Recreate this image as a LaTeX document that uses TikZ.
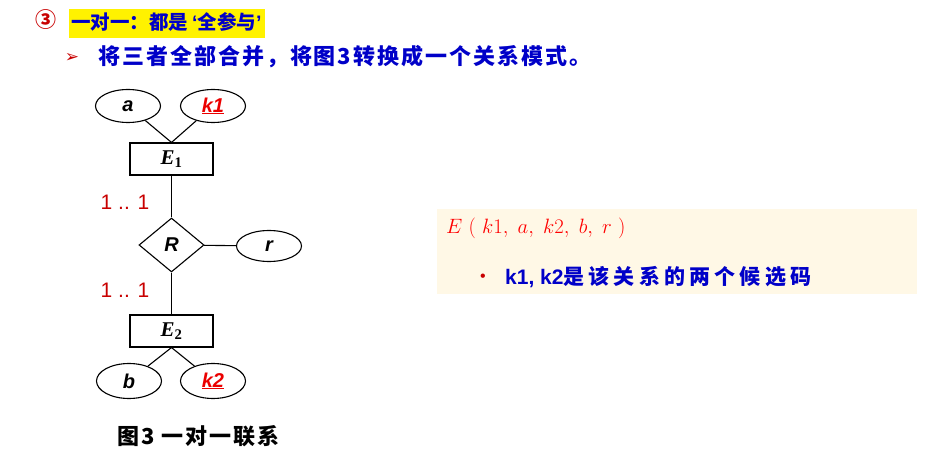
\documentclass[tikz,border=0pt]{standalone}
\usepackage{fontspec}
\usepackage{tikz}
\usetikzlibrary{shapes.geometric,positioning}
\setmainfont{Liberation Sans}
\newfontfamily\seriffont{Liberation Serif}
\newfontfamily\cjkfont{Noto Sans CJK SC}
\newfontfamily\cjkwide[LetterSpace=9]{Noto Sans CJK SC}
\newfontfamily\cjkloose[LetterSpace=20]{Noto Sans CJK SC}
\newfontfamily\symfont{DejaVu Sans}
\definecolor{titleblue}{RGB}{0,0,200}
\definecolor{keyred}{RGB}{235,0,0}
\definecolor{darkred}{RGB}{200,0,0}
\definecolor{boxcream}{RGB}{255,248,230}

\tikzset{
    attr/.style={ellipse, draw, line width=1.1pt, minimum width=65pt, minimum height=33pt,
                 inner sep=0pt, font=\fontsize{20}{22}\selectfont\bfseries\itshape},
    entity/.style={rectangle, draw, line width=1.1pt, minimum width=83pt, minimum height=32pt,
                   inner sep=0pt, font=\fontsize{21}{23}\selectfont\seriffont\bfseries\itshape},
    relship/.style={diamond, draw, line width=1.1pt, minimum width=65pt, minimum height=54pt,
                    inner sep=0pt, font=\fontsize{20}{22}\selectfont\bfseries\itshape},
    card/.style={text=darkred, font=\fontsize{21}{23}\selectfont},
    conn/.style={line width=1.1pt}
}

\begin{document}
\begin{tikzpicture}[x=1pt, y=-1pt]
    \useasboundingbox (0,0) rectangle (942,454);

    % heading
    \node[text=darkred, font=\fontsize{21}{23}\selectfont\cjkfont\bfseries] (num) at (46,20) {③};
    \node[fill=yellow, minimum width=196pt, minimum height=29pt, inner sep=0pt] (hl) at (167,23.5) {};
    \node[anchor=west, inner sep=0pt, text=titleblue, font=\fontsize{19.5}{22}\selectfont\cjkfont\bfseries]
        (title) at (71,22) {一对一：都是\hspace{4pt}{\rmfamily ‘}全参与{\rmfamily ’}};
    \node[text=darkred, font=\fontsize{17}{19}\selectfont\symfont] (arrow) at (72,58) {➢};
    \node[anchor=west, inner sep=0pt, text=titleblue, font=\fontsize{22}{24}\selectfont\cjkwide\bfseries]
        (task) at (98,57) {将三者全部合并，将图3转换成一个关系模式。};

    % E-R diagram
    \node[attr] (a) at (128,106) {a};
    \node[attr, text=keyred] (k1) at (213,106) {\underline{k1}};
    \node[entity] (E1) at (171.5,159) {E\textsubscript{\upshape 1}};
    \node[relship] (R) at (171.5,245) {R};
    \node[attr, minimum height=31pt] (r) at (269,246) {r};
    \node[entity] (E2) at (171.5,331) {E\textsubscript{\upshape 2}};
    \node[attr, minimum height=35pt] (b) at (129,381) {b};
    \node[attr, minimum height=35pt, text=keyred] (k2) at (213,381) {\underline{k2}};

    \node[card] (c1) at (125,202) {1 .. 1};
    \node[card] (c2) at (125,290) {1 .. 1};

    \draw[conn] (a) -- (E1.north);
    \draw[conn] (k1) -- (E1.north);
    \draw[conn] (E1) -- (R);
    \draw[conn] (R) -- (r);
    \draw[conn] (R) -- (E2);
    \draw[conn] (E2.south) -- (b);
    \draw[conn] (E2.south) -- (k2);

    \node[anchor=west, inner sep=0pt, font=\fontsize{22}{24}\selectfont\cjkwide\bfseries]
        (caption) at (117,436) {图3 一对一联系};

    % relation schema
    \node[fill=boxcream, minimum width=480pt, minimum height=85pt, inner sep=0pt] (keybox) at (677,251.5) {};
    \node[anchor=west, inner sep=0pt, text=red, font=\fontsize{22}{24}\selectfont]
        (schema) at (446,228) {$E\ (\ k1,\; a,\; k2,\; b,\; r\ )$};
    \node[text=darkred, font=\fontsize{16}{18}\selectfont] (dot) at (483,278) {•};
    \node[anchor=west, inner sep=0pt, text=titleblue, font=\fontsize{21}{23}\selectfont\bfseries]
        (keys) at (505,277) {k1, k2{\cjkloose 是该关系的两个候选码}};
\end{tikzpicture}
\end{document}
